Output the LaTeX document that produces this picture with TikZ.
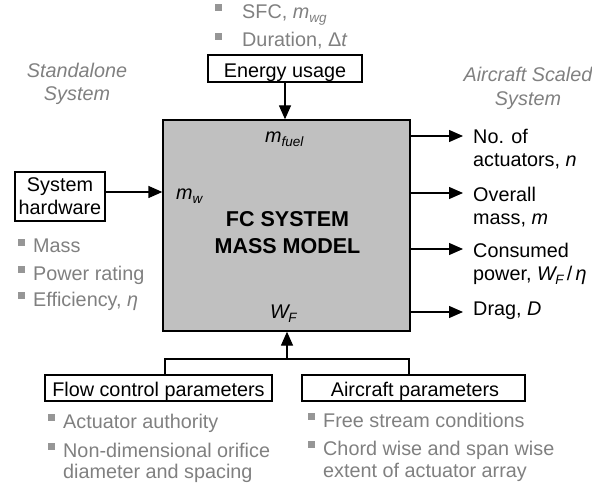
\documentclass[tikz,border=0pt]{standalone}
\usepackage{fontspec}
\setmainfont{Liberation Sans}
\usetikzlibrary{arrows.meta}
\definecolor{txtgray}{RGB}{128,128,128}
\definecolor{bulgray}{RGB}{150,150,150}
\definecolor{boxgray}{RGB}{192,192,192}
\newcommand{\bul}{\textcolor{bulgray}{\rule[7pt]{7pt}{7pt}}}
\newcommand{\mysub}[1]{\raisebox{-4pt}{\fontsize{13.5}{13.5}\selectfont\itshape #1}}
\begin{document}
\begin{tikzpicture}[x=1pt,y=-1pt,
  font=\fontsize{19.8}{23}\selectfont,
  box/.style={draw, line width=1.3pt, inner sep=0pt},
  txt/.style={inner sep=0pt, anchor=base west},
  ctxt/.style={inner sep=0pt, anchor=base},
  gtxt/.style={txt, text=txtgray},
  gctxt/.style={ctxt, text=txtgray, font=\fontsize{19.8}{23}\selectfont\itshape},
  arr/.style={-{Triangle[length=14pt,width=12pt]}, line width=1.3pt},
  line/.style={line width=1.3pt}]
\useasboundingbox (0,0) rectangle (592,489);

% main box
\node[box, fill=boxgray, minimum width=247pt, minimum height=211pt] (fc) at (286.5,225.5) {};
\node[txt] (mfuel) at (265,143) {\textit{m}\mysub{fuel}};
\node[txt] (mw) at (176,200) {\textit{m}\mysub{w}};
\node[txt] (wf) at (270,318) {\textit{W}\kern-2pt\mysub{F}};
\node[ctxt, font=\fontsize{21.5}{24}\selectfont\bfseries] (fc1) at (287.5,227) {FC SYSTEM};
\node[ctxt, font=\fontsize{21.5}{24}\selectfont\bfseries] (fc2) at (287.5,254) {MASS MODEL};

% headings
\node[gctxt] (sa1) at (77,78) {Standalone};
\node[gctxt] (sa2) at (77,101) {System};
\node[gctxt] (ac1) at (528,82) {Aircraft Scaled};
\node[gctxt] (ac2) at (528,105.5) {System};

% energy usage
\node[gtxt] (t1) at (215,18.5) {\bul\hspace{20pt}SFC, \textit{m}\mysub{wg}};
\node[gtxt] (t2) at (215,47) {\bul\hspace{20pt}Duration, Δ\textit{t}};
\node[box, minimum width=154pt, text height=23pt, text depth=4pt, anchor=base] (energy) at (285,78) {Energy usage};
\draw[arr] (energy.south) -- (energy.south |- fc.north);

% system hardware
\node[box, minimum width=90pt, minimum height=49pt] (hw) at (60,196.5) {};
\node[ctxt] (hw1) at (60,192) {System};
\node[ctxt] (hw2) at (60,215) {hardware};
\draw[arr] ([yshift=4.5pt]hw.east) -- ([yshift=4.5pt]hw.east -| fc.west);
\node[gtxt] (l1) at (18,253) {\bul\hspace{8pt}Mass};
\node[gtxt] (l2) at (18,280) {\bul\hspace{8pt}Power rating};
\node[gtxt] (l3) at (18,306) {\bul\hspace{8pt}Efficiency, \textit{η}};

% outputs
\coordinate (e1) at (463,136);
\coordinate (e2) at (463,193);
\coordinate (e3) at (463,249);
\coordinate (e4) at (463,312);
\draw[arr] (fc.east |- e1) -- (e1);
\draw[arr] (fc.east |- e2) -- (e2);
\draw[arr] (fc.east |- e3) -- (e3);
\draw[arr] (fc.east |- e4) -- (e4);
\node[txt] (o1a) at (473,144) {No. of};
\node[txt] (o1b) at (473,167) {actuators, \textit{n}};
\node[txt] (o2a) at (473,202) {Overall};
\node[txt] (o2b) at (473,225) {mass, \textit{m}};
\node[txt] (o3a) at (473,258) {Consumed};
\node[txt] (o3b) at (473,280) {power, \textit{W}\kern-2pt\mysub{F}\,/\,\textit{η}};
\node[txt] (o4) at (473,316) {Drag, \textit{D}};

% bottom parameters
\node[box, minimum width=227pt, minimum height=26pt] (flow) at (158.5,388) {};
\node[ctxt] (flowt) at (158.5,396) {Flow control parameters};
\node[box, minimum width=223pt, minimum height=26pt] (air) at (413.5,388) {};
\node[ctxt] (airt) at (415,396) {Aircraft parameters};
\coordinate (j) at (287,359);
\draw[line] ([xshift=6.5pt]flow.north) |- (j) -| ([xshift=-4.5pt]air.north);
\draw[arr] (j) -- (j |- fc.south);

\node[gtxt] (f1) at (48,428) {\bul\hspace{8pt}Actuator authority};
\node[gtxt] (f2) at (48,457) {\bul\hspace{8pt}Non-dimensional orifice};
\node[gtxt] (f3) at (63,478) {diameter and spacing};
\node[gtxt] (a1) at (308,427) {\bul\hspace{8pt}Free stream conditions};
\node[gtxt] (a2) at (308,455) {\bul\hspace{8pt}Chord wise and span wise};
\node[gtxt] (a3) at (323,477) {extent of actuator array};
\end{tikzpicture}
\end{document}
